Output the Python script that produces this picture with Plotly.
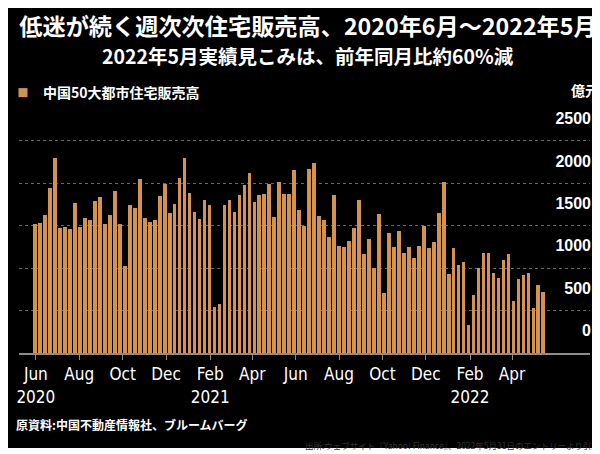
import plotly.graph_objects as go
import pandas as pd

# Weekly dates (one bar per week, Sundays)
weeks = pd.date_range("2020-05-31", periods=103, freq="7D")

# Weekly home sales in 50 major Chinese cities (100 million yuan)
sales = [
    1519, 1535, 1629, 1939, 2293, 1468, 1484, 1457, 1763, 1484,
    1590, 1566, 1794, 1833, 1519, 1629, 1911, 1519, 1021, 1739,
    1708, 2049, 1590, 1546, 1566, 1845, 1994, 1645, 1751, 2061,
    2293, 1884, 1657, 1578, 1806, 1739, 545, 573, 1739, 1806,
    1657, 1861, 1982, 2116, 1778, 1857, 1872, 1994, 1602, 2010,
    1872, 1872, 2159, 1684, 1492, 2170, 2237, 1617, 1563, 1362,
    1857, 1264, 1252, 1315, 1468, 1806, 1170, 1342, 1001, 1641,
    707, 1409, 1252, 1440, 1178, 1252, 1115, 1264, 1492, 1236,
    1303, 1645, 2010, 927, 1236, 1033, 1075, 330, 683, 1005,
    1178, 1178, 938, 887, 1091, 1170, 612, 871, 915, 938,
    534, 804, 722,
]

tick_dates = ["2020-06-01", "2020-08-01", "2020-10-01", "2020-12-01",
              "2021-02-01", "2021-04-01", "2021-06-01", "2021-08-01",
              "2021-10-01", "2021-12-01", "2022-02-01", "2022-04-01"]
tick_labels = ["Jun<br>2020", "Aug", "Oct", "Dec", "Feb<br>2021", "Apr",
               "Jun", "Aug", "Oct", "Dec", "Feb<br>2022", "Apr"]
y_ticks = [0, 500, 1000, 1500, 2000, 2500]

series_name = "中国50大都市住宅販売高"
title_text = "低迷が続く週次次住宅販売高、2020年6月～2022年5月"
subtitle_text = "2022年5月実績見こみは、前年同月比約60%減"
unit_text = "億元"
source1 = "原資料:中国不動産情報社、ブルームバーグ"
source2 = "出所:ウェブサイト『Yahoo! Finance』、2022年5月31日のエントリーより引用"

BAR = "#D4924E"
CJK = "Noto Sans CJK JP"

W, H = 600, 454
L, R, T, B = 11, 18, 100, 109
pw, ph = W - L - R, H - T - B


def px(xp):
    return (xp - L) / pw


def py(yp):
    return (H - B - yp) / ph


fig = go.Figure()
fig.add_trace(go.Bar(
    x=weeks, y=sales, name=series_name, showlegend=False,
    marker=dict(color=BAR, line=dict(width=0)),
    width=5.2 * 86400000,
))
fig.add_trace(go.Scatter(
    x=[None], y=[None], mode="markers", name=series_name,
    marker=dict(symbol="square", size=9, color=BAR),
))

fig.update_layout(
    width=W, height=H,
    margin=dict(l=L, r=R, t=T, b=B, pad=0, autoexpand=False),
    paper_bgcolor="black", plot_bgcolor="black",
    title=dict(text="<b>" + title_text + "</b>", x=0.5, xanchor="center",
               xref="container", yref="container", y=1 - 19 / H,
               yanchor="middle", font=dict(family=CJK, size=23.2, color="white")),
    showlegend=True,
    legend=dict(x=px(-5), xanchor="left", y=py(85), yanchor="middle",
                bgcolor="rgba(0,0,0,0)",
                font=dict(family=CJK, size=14, color="white", weight="bold"),
                itemclick=False),
    bargap=0,
)

fig.update_xaxes(
    type="date", range=["2020-05-08 08:00", "2022-07-19 14:00"],
    tickvals=tick_dates, ticktext=tick_labels,
    ticks="outside", ticklen=5, tickcolor="#8c8c8c", tickwidth=1,
    showline=True, linecolor="#8c8c8c", linewidth=2,
    showgrid=False, zeroline=False,
    tickfont=dict(family="Liberation Sans Narrow, DejaVu Sans Condensed, sans-serif",
                  size=17, color="white"),
)
fig.update_yaxes(
    side="right", range=[0, ph / (42.46 / 500)],
    tickvals=y_ticks, ticktext=[str(v) for v in y_ticks],
    showgrid=True, gridcolor="#666666", griddash="dot", gridwidth=1,
    zeroline=False, showline=False, ticks="",
    ticklabelposition="inside top", ticklabelstandoff=-4, ticklabelshift=-11,
    ticklabeloverflow="allow",
    tickfont=dict(family="Liberation Sans, Arial, sans-serif", size=16,
                  color="white", weight="bold"),
)

fig.add_shape(type="rect", xref="paper", yref="paper",
              x0=px(0), x1=px(W), y0=py(H), y1=py(440),
              fillcolor="white", line=dict(width=0), layer="above")

annos = [
    dict(text="<b>" + subtitle_text + "</b>", x=px(300), y=py(48), xanchor="center",
         yanchor="middle", font=dict(family=CJK, size=19.5, color="white")),
    dict(text="<b>" + unit_text + "</b>", x=px(593), y=py(82), xanchor="right",
         yanchor="middle", font=dict(family=CJK, size=14, color="white")),
    dict(text="<b>" + source1 + "</b>", x=px(6), y=py(416), xanchor="left",
         yanchor="middle", font=dict(family=CJK, size=12, color="white")),
    dict(text=source2, x=px(594), y=py(437), xanchor="right",
         yanchor="middle", font=dict(family=CJK, size=8.5, color="#333333")),
]
for a in annos:
    fig.add_annotation(xref="paper", yref="paper", showarrow=False, **a)

fig.write_html("out.html")
